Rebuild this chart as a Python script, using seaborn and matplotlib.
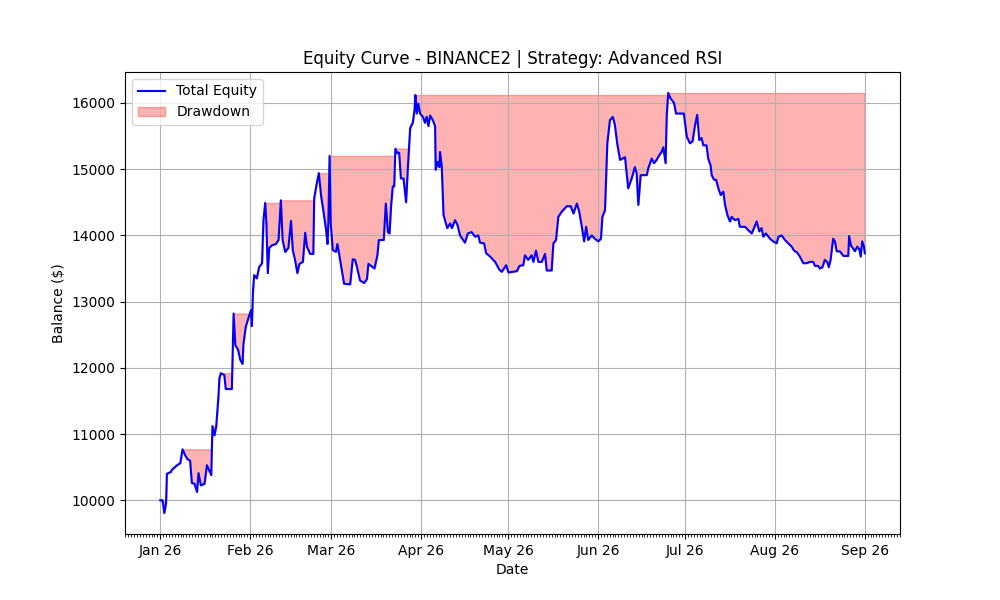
import numpy as np
import pandas as pd
import matplotlib
matplotlib.use("Agg")
import matplotlib.pyplot as plt
import matplotlib.dates as mdates
import seaborn as sns

start_date = "2026-01-01"
day_offsets = [
    0.0, 0.8, 1.4, 2.0, 2.3, 3.7, 4.0, 5.8, 6.9, 7.7, 8.6, 9.4, 10.3, 10.9, 11.8, 12.7, 13.2, 14.0,
    15.3, 16.1, 16.9, 17.6, 18.0, 18.7, 19.3, 20.1, 20.4, 20.9, 22.1, 22.6, 24.7, 25.3, 25.9, 26.8,
    27.6, 28.4, 28.7, 29.5, 30.4, 31.3, 31.6, 32.0, 32.4, 33.3, 34.1, 35.1, 35.6, 36.2, 36.6, 37.1,
    37.6, 38.5, 39.9, 40.8, 41.6, 42.2, 43.1, 44.2, 45.1, 45.7, 46.5, 47.3, 48.0, 49.2, 50.0, 50.6,
    51.7, 52.8, 53.1, 53.8, 54.7, 55.5, 56.3, 57.2, 57.7, 58.0, 58.4, 58.8, 59.5, 60.6, 61.1, 62.0,
    63.4, 65.5, 66.4, 67.2, 67.8, 68.9, 70.3, 71.3, 71.8, 73.0, 73.9, 74.9, 75.4, 77.1, 77.8, 78.5,
    79.1, 79.6, 80.2, 80.7, 81.1, 81.8, 82.4, 83.0, 83.9, 84.8, 85.4, 86.2, 87.1, 87.7, 88.0, 88.5,
    89.0, 89.6, 90.6, 91.3, 91.9, 92.5, 93.1, 94.0, 94.8, 95.0, 95.7, 96.3, 96.5, 97.1, 97.7, 98.2,
    99.0, 100.0, 100.6, 101.7, 102.5, 103.4, 105.1, 106.1, 107.4, 108.6, 109.7, 110.3, 111.7, 112.4,
    113.8, 115.5, 117.0, 117.8, 119.3, 120.1, 123.0, 123.9, 125.2, 125.8, 126.9, 128.1, 128.7, 129.6,
    130.4, 131.6, 132.7, 133.3, 135.0, 135.6, 136.5, 137.3, 138.5, 140.2, 141.6, 142.5, 143.7, 144.5,
    145.4, 146.2, 146.9, 147.6, 148.8, 149.9, 151.1, 152.0, 152.5, 153.4, 154.2, 155.1, 156.1, 156.8,
    157.6, 158.6, 160.3, 161.4, 162.6, 163.7, 164.3, 164.9, 165.7, 167.8, 168.3, 169.5, 170.3, 171.2,
    172.1, 172.9, 173.5, 174.3, 174.7, 175.2, 176.0, 177.2, 177.9, 180.6, 181.6, 182.7, 183.6, 184.4,
    185.2, 185.9, 186.7, 187.3, 188.4, 189.0, 189.8, 190.2, 191.0, 191.7, 192.5, 193.3, 194.2, 194.8,
    195.6, 196.5, 197.1, 198.2, 199.4, 199.9, 201.7, 202.8, 204.0, 204.8, 205.7, 206.6, 207.4, 208.0,
    208.9, 210.3, 211.4, 212.6, 213.2, 214.3, 215.5, 216.6, 217.8, 218.6, 219.7, 220.6, 221.8, 222.9,
    224.1, 225.2, 225.8, 226.9, 227.5, 228.4, 229.2, 230.0, 230.6, 231.2, 232.1, 232.7, 233.3, 234.4,
    235.6, 237.3, 237.6, 238.2, 239.0, 239.6, 240.4, 241.1, 241.6, 242.1, 242.7, 243.0,
]
equity = [
    10000, 10000, 9808, 9950, 10400, 10430, 10460, 10530, 10560, 10770, 10680, 10620, 10600, 10260, 10250, 10125, 10410, 10225,
    10250, 10530, 10450, 10380, 11120, 10980, 11110, 11590, 11840, 11920, 11890, 11680, 11680, 12820, 12340, 12280,
    12120, 12060, 12360, 12620, 12750, 12870, 12630, 13170, 13400, 13350, 13520, 13580, 14230, 14490, 14190, 13430,
    13810, 13850, 13870, 13930, 14530, 13930, 13750, 13810, 14220, 13780, 13630, 13430, 13570, 13600, 14040, 13830,
    13720, 13720, 14560, 14740, 14940, 14590, 14360, 14080, 13870, 14210, 15200, 14180, 13780, 13750, 13870, 13640,
    13270, 13260, 13640, 13630, 13530, 13320, 13280, 13340, 13570, 13530, 13500, 13700, 13930, 13930, 14480, 14050,
    14030, 14430, 14740, 14740, 15310, 15240, 15250, 14860, 14860, 14500, 15010, 15620, 15700, 15890, 16120, 15840,
    15990, 15840, 15790, 15700, 15790, 15650, 15810, 15740, 15650, 14990, 15110, 15030, 15260, 15040, 14310, 14230,
    14110, 14180, 14110, 14230, 14160, 14000, 13890, 14030, 14050, 13980, 14000, 13890, 13880, 13730,
    13680, 13600, 13480, 13450, 13550, 13440, 13460, 13540, 13550, 13700, 13630, 13700, 13600, 13770,
    13600, 13600, 13720, 13470, 13470, 13880, 13930, 14280, 14360, 14440, 14440, 14330, 14480, 14360,
    14130, 13910, 14130, 13930, 14000, 13950, 13910, 13950, 14280, 14380, 15390, 15740, 15790, 15670,
    15390, 15140, 15180, 14710, 14860, 15030, 14940, 14460, 14910, 14910, 15010, 15160, 15090, 15140,
    15210, 15260, 15330, 15090, 15820, 16150, 16070, 16000, 15840, 15840, 15490, 15390, 15420, 15650,
    15820, 15440, 15470, 15360, 15360, 15160, 15060, 14910, 14840, 14840, 14710, 14610, 14660, 14460,
    14310, 14210, 14280, 14230, 14250, 14130, 14130, 14080, 14030, 14110, 14210, 14060, 14110, 13980,
    14030, 13950, 13910, 13880, 13980, 14000, 13930, 13880, 13830, 13770, 13740, 13680, 13580, 13580,
    13600, 13600, 13540, 13540, 13500, 13520, 13630, 13600, 13520, 13630, 13950, 13910, 13760, 13760,
    13690, 13690, 13990, 13850, 13800, 13760, 13830, 13790, 13680, 13910, 13830, 13730,
]

title_text = "Equity Curve - BINANCE2 | Strategy: Advanced RSI"

dates = pd.Timestamp(start_date) + pd.to_timedelta(day_offsets, unit="D")
df = pd.DataFrame({"Date": dates, "Equity": equity})
df["Peak"] = df["Equity"].cummax()

fig, ax = plt.subplots(figsize=(10, 6), dpi=100)
sns.lineplot(data=df, x="Date", y="Equity", color="blue", linewidth=1.5,
             label="Total Equity", ax=ax)
ax.fill_between(df["Date"], df["Equity"], df["Peak"], color="red", alpha=0.3,
                label="Drawdown")

ax.set_title(title_text)
ax.set_xlabel("Date")
ax.set_ylabel("Balance ($)")
ax.grid(True)
ax.xaxis.set_major_locator(mdates.MonthLocator())
ax.xaxis.set_major_formatter(mdates.DateFormatter("%b %y"))
ax.xaxis.set_minor_locator(mdates.DayLocator())
ax.legend(loc="upper left")

fig.savefig("out.png", dpi=100)
